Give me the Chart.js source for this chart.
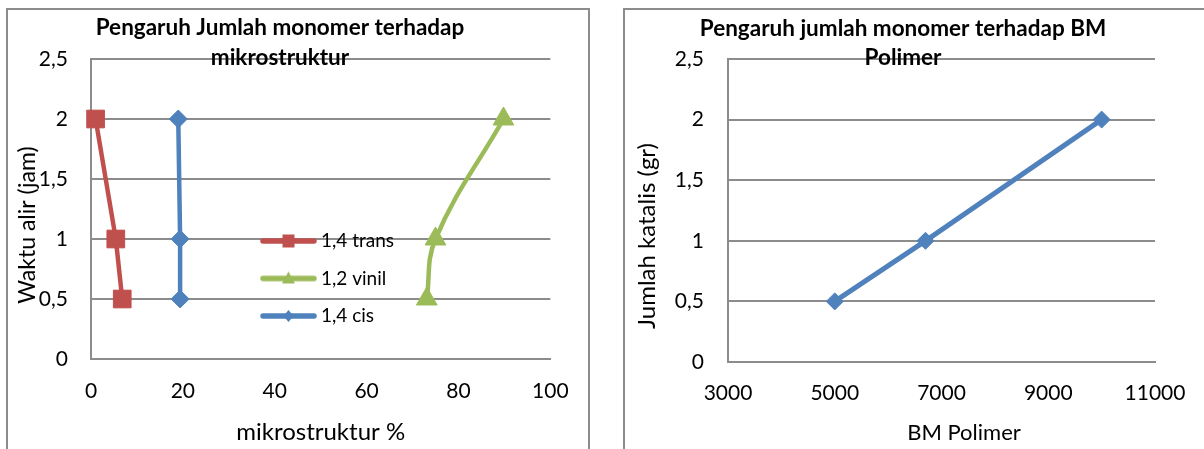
<!DOCTYPE html>
<html><head><meta charset="utf-8">
<script src="https://cdn.jsdelivr.net/npm/chart.js@4.4.1/dist/chart.umd.min.js"></script>
<style>
html,body{margin:0;padding:0;background:#fff;overflow:hidden;width:1204px;height:449px;}
.box{position:absolute;box-sizing:border-box;border:2px solid #8c8c8c;}
canvas{position:absolute;}
</style></head><body>
<div class="box" style="left:6px;top:8px;width:584px;height:470px"></div>
<div class="box" style="left:623px;top:8px;width:700px;height:470px"></div>
<canvas id="c1" width="580" height="439" style="left:8px;top:10px"></canvas>
<canvas id="c2" width="578" height="439" style="left:626px;top:10px"></canvas>
<script>
// ---- data (left chart) ----
const waktuAlir = [2, 1, 0.5];
const trans14 = [1.0, 5.4, 6.8];
const vinil12 = [89.8, 75.0, 73.1];
const cis14 = [19.0, 19.4, 19.4];
const seriesNames = ['1,4 trans', '1,2 vinil', '1,4 cis'];
const yTickLabels = ['0', '0,5', '1', '1,5', '2', '2,5'];
const xTickLabels1 = ['0', '20', '40', '60', '80', '100'];
// ---- data (right chart) ----
const bmPolimer = [5000, 6700, 10000];
const jumlahKatalis = [0.5, 1, 2];
const xTickLabels2 = ['3000', '5000', '7000', '9000', '11000'];

const F = "Lato, 'Open Sans', sans-serif";
const RED = '#C0504D', GREEN = '#9BBB59', BLUE = '#4F81BD', GRID = '#8c8c8c';
Chart.defaults.font.family = F;
Chart.defaults.color = '#000';

function legendIcon(color, style) {
  const c = document.createElement('canvas');
  c.width = 57; c.height = 16;
  const g = c.getContext('2d');
  g.strokeStyle = color; g.fillStyle = color; g.lineWidth = 5.5; g.lineCap = 'round';
  g.beginPath(); g.moveTo(3, 8); g.lineTo(54, 8); g.stroke();
  const cx = 28.5, cy = 8;
  g.beginPath();
  if (style === 'rect') { g.rect(cx - 6, cy - 6.5, 12, 13); }
  else if (style === 'triangle') { g.moveTo(cx, cy - 7); g.lineTo(cx + 6.5, cy + 5); g.lineTo(cx - 6.5, cy + 5); g.closePath(); }
  else { g.moveTo(cx, cy - 6); g.lineTo(cx + 5, cy); g.lineTo(cx, cy + 6); g.lineTo(cx - 5, cy); g.closePath(); }
  g.fill();
  return c;
}
const icons = [legendIcon(RED, 'rect'), legendIcon(GREEN, 'triangle'), legendIcon(BLUE, 'diamond')];

const legendPlace = {
  id: 'legendPlace',
  afterLayout(chart, args, o) {
    if (chart.legend && o && o.left != null) {
      chart.legend.left = o.left; chart.legend.top = o.top;
      chart.legend.bottom = o.top + 400; chart.legend.right = o.left + 300;
    }
  }
};
// axis titles placed where the original puts them
const axisTitles = {
  id: 'axisTitles',
  afterDraw(chart, args, o) {
    if (!o || !o.items) return;
    const ctx = chart.ctx;
    o.items.forEach(it => {
      ctx.save();
      ctx.translate(it.x, it.y);
      if (it.rot) ctx.rotate(it.rot * Math.PI / 180);
      ctx.font = it.size + 'px ' + F;
      ctx.fillStyle = '#000';
      ctx.textAlign = 'center';
      ctx.textBaseline = 'middle';
      ctx.fillText(it.text, 0, 0);
      ctx.restore();
    });
  }
};

function pts(xs, ys) { return ys.map((y, i) => ({x: xs[i], y})); }

function ds(label, xs, color, style, radius, tension) {
  return {
    label, data: pts(xs, waktuAlir), showLine: true, clip: false,
    borderColor: color, backgroundColor: color, borderWidth: 4.5, tension,
    pointStyle: style, pointRadius: radius, pointBackgroundColor: color,
    pointBorderColor: color, pointBorderWidth: 1
  };
}

new Chart(document.getElementById('c1'), {
  type: 'scatter',
  data: {
    datasets: [
      ds(seriesNames[0], trans14, RED, 'rect', 12.5, 0),
      ds(seriesNames[1], vinil12, GREEN, 'triangle', 12, 0.4),
      ds(seriesNames[2], cis14, BLUE, 'rectRot', 9, 0)
    ]
  },
  options: {
    responsive: false, animation: false, devicePixelRatio: 1,
    layout: {padding: {left: 0, right: 36, top: 0, bottom: 0}},
    plugins: {
      title: {display: true, text: ['Pengaruh Jumlah monomer terhadap', 'mikrostruktur'], color: '#000',
        font: {family: F, size: 22.5, weight: 'bold', lineHeight: '30px'}, padding: {top: 3, bottom: -14}},
      legend: {
        display: true, position: 'chartArea', align: 'start',
        labels: {
          usePointStyle: true, pointStyleWidth: 46, padding: 18.5, color: '#000',
          font: {family: F, size: 19},
          generateLabels(chart) {
            const items = Chart.defaults.plugins.legend.labels.generateLabels(chart);
            items.forEach((it, i) => { it.pointStyle = icons[i]; });
            return items;
          }
        }
      },
      tooltip: {enabled: false},
      legendPlace: {left: 239, top: 203},
      axisTitles: {items: [{text: 'Waktu alir (jam)', x: 20, y: 215, size: 23, rot: -90}]}
    },
    scales: {
      x: {
        type: 'linear', min: 0, max: 100,
        ticks: {stepSize: 20, padding: 19.4, color: '#000', font: {family: F, size: 21}, maxRotation: 0, autoSkip: false,
          callback: (v, i) => xTickLabels1[i]},
        grid: {display: false, drawTicks: false},
        border: {color: GRID, width: 2},
        title: {display: true, text: 'mikrostruktur %', color: '#000', font: {family: F, size: 24}, padding: {top: 0, bottom: 2.6}},
        afterFit(s) { s.height = 90; }
      },
      y: {
        type: 'linear', min: 0, max: 2.5,
        ticks: {stepSize: 0.5, padding: 23, color: '#000', font: {family: F, size: 21},
          callback: (v, i) => yTickLabels[i]},
        grid: {color: GRID, lineWidth: 2, drawTicks: false},
        border: {color: GRID, width: 2},
        afterFit(s) { s.width = 83; }
      }
    }
  },
  plugins: [legendPlace, axisTitles]
});

new Chart(document.getElementById('c2'), {
  type: 'scatter',
  data: {
    datasets: [{
      label: 'BM Polimer', data: pts(bmPolimer, jumlahKatalis), showLine: true, clip: false,
      borderColor: BLUE, backgroundColor: BLUE, borderWidth: 5, tension: 0,
      pointStyle: 'rectRot', pointRadius: 8.5, pointBackgroundColor: BLUE, pointBorderColor: BLUE, pointBorderWidth: 1
    }]
  },
  options: {
    responsive: false, animation: false, devicePixelRatio: 1,
    layout: {padding: {left: 25, right: 49, top: 0, bottom: 0}},
    plugins: {
      title: {display: true, text: ['Pengaruh jumlah monomer terhadap BM', 'Polimer'], color: '#000',
        font: {family: F, size: 22.5, weight: 'bold', lineHeight: '29px'}, padding: {top: 4.5, bottom: -13.5}},
      legend: {display: false},
      tooltip: {enabled: false},
      axisTitles: {items: [
        {text: 'Jumlah katalis (gr)', x: 21, y: 226, size: 24, rot: -90},
        {text: 'BM Polimer', x: 338, y: 423, size: 22, rot: 0}
      ]}
    },
    scales: {
      x: {
        type: 'linear', min: 3000, max: 11000,
        ticks: {stepSize: 2000, padding: 18.4, color: '#000', font: {family: F, size: 21}, maxRotation: 0, autoSkip: false,
          callback: (v, i) => xTickLabels2[i]},
        grid: {display: false, drawTicks: false},
        border: {color: GRID, width: 2},
        afterFit(s) { s.height = 87; }
      },
      y: {
        type: 'linear', min: 0, max: 2.5,
        ticks: {stepSize: 0.5, padding: 24, color: '#000', font: {family: F, size: 21},
          callback: (v, i) => yTickLabels[i]},
        grid: {color: GRID, lineWidth: 2, drawTicks: false},
        border: {color: GRID, width: 2},
        afterFit(s) { s.width = 77; }
      }
    }
  },
  plugins: [axisTitles]
});
</script>
</body></html>
